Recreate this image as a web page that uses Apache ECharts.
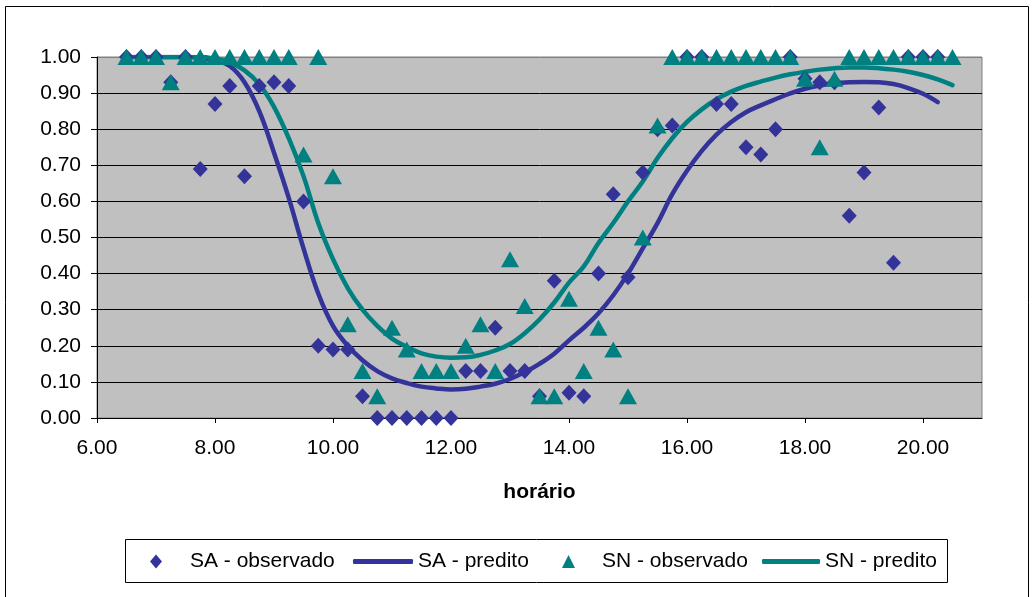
<!DOCTYPE html>
<html><head><meta charset="utf-8">
<script src="https://cdn.jsdelivr.net/npm/echarts@6/dist/echarts.min.js"></script>
<style>html,body{margin:0;padding:0;background:#fff}#c{width:1032px;height:597px}</style>
</head><body><div id="c"></div>
<script>
const hours = [6.5,6.75,7,7.25,7.5,7.75,8,8.25,8.5,8.75,9,9.25,9.5,9.75,10,10.25,10.5,10.75,11,11.25,11.5,11.75,12,12.25,12.5,12.75,13,13.25,13.5,13.75,14,14.25,14.5,14.75,15,15.25,15.5,15.75,16,16.25,16.5,16.75,17,17.25,17.5,17.75,18,18.25,18.5,18.75,19,19.25,19.5,19.75,20,20.25,20.5];
const saObserved = [1,1, 1,0.93,1,0.69, 0.87,0.92,0.67,0.92, 0.93,0.92,0.60,0.20, 0.19,0.19,0.06,0, 0,0,0,0, 0,0.13,0.13,0.25, 0.13,0.13,0.06,0.38, 0.07,0.06,0.40,0.62, 0.39,0.68,0.80,0.81, 1,1,0.87,0.87, 0.75,0.73,0.80,1, 0.94,0.93,0.93,0.56, 0.68,0.86,0.43,1, 1,1,null];
const snObserved = [1,1, 1,0.93,1,1, 1,1,1,1, 1,1,0.73,1, 0.67,0.26,0.13,0.06, 0.25,0.19,0.13,0.13, 0.13,0.20,0.26,0.13, 0.44,0.31,0.06,0.06, 0.33,0.13,0.25,0.19, 0.06,0.50,0.81,1, 1,1,1,1, 1,1,1,1, 0.94,0.75,0.94,1, 1,1,1,1, 1,1,1];
const saPredicted = [1,1, 1,1,1,0.998, 0.99,0.975,0.93,0.85, 0.735,0.61,0.47,0.345, 0.255,0.2,0.16,0.13, 0.11,0.097,0.087,0.082, 0.079,0.081,0.087,0.095, 0.108,0.127,0.15,0.178, 0.215,0.25,0.29,0.34, 0.40,0.47,0.54,0.62, 0.685,0.74,0.785,0.82, 0.847,0.866,0.883,0.899, 0.912,0.921,0.927,0.93, 0.931,0.93,0.925,0.914, 0.898,0.875,null];
const snPredicted = [1,1, 1,1,1,1, 0.995,0.985,0.963,0.925, 0.862,0.775,0.67,0.54, 0.44,0.36,0.30,0.255, 0.22,0.197,0.179,0.17, 0.167,0.168,0.175,0.187, 0.205,0.235,0.273,0.32, 0.375,0.42,0.485,0.54, 0.60,0.655,0.72,0.775, 0.82,0.855,0.883,0.904, 0.92,0.932,0.943,0.952, 0.959,0.965,0.969,0.971, 0.971,0.969,0.965,0.959, 0.95,0.938,0.922];
const xTicks = [6,8,10,12,14,16,18,20];
const seriesNames = ['SA - observado','SA - predito','SN - observado','SN - predito'];
const xAxisName = 'horário';

function pairs(ys){ const out=[]; ys.forEach((y,i)=>{ if(y!==null) out.push([hours[i],y]); }); return out; }

const FONT = "'Liberation Sans', Arial, sans-serif";
const SA_COLOR = '#333399', SN_COLOR = '#008080';
const chart = echarts.init(document.getElementById('c'), null, {renderer:'canvas'});
const legendText = {fontSize:21, fontFamily:FONT, color:'#000'};
const legendBase = {padding:0, top:551, selectedMode:false, textStyle:legendText};
chart.setOption({
  animation:false,
  backgroundColor:'#fff',
  grid:{left:97, top:57, width:885, height:361, show:true, backgroundColor:'#c0c0c0', borderColor:'#808080', borderWidth:1},
  xAxis:{type:'value', min:6, max:21,
    name:xAxisName, nameLocation:'middle', nameGap:64,
    nameTextStyle:{fontSize:21, fontWeight:'bold', fontFamily:FONT, color:'#000'},
    axisLine:{onZero:false, lineStyle:{color:'#000', width:1}},
    axisTick:{show:true, length:5, customValues:xTicks, lineStyle:{color:'#000'}},
    axisLabel:{customValues:xTicks, margin:20, fontSize:21, fontFamily:FONT, color:'#000', formatter:v=>v.toFixed(2)},
    splitLine:{show:false}},
  yAxis:{type:'value', min:0, max:1, interval:0.1,
    axisLine:{show:true, lineStyle:{color:'#000', width:1}},
    axisTick:{show:true, length:6, lineStyle:{color:'#000'}},
    axisLabel:{margin:16, fontSize:21, fontFamily:FONT, color:'#000', formatter:v=>v.toFixed(2)},
    splitLine:{show:true, lineStyle:{color:['#000','#000','#000','#000','#000','#000','#000','#000','#000','#000','#808080'], width:1}}},
  legend:[
    Object.assign({}, legendBase, {data:[{name:seriesNames[0], icon:'diamond'}], left:150, itemWidth:12, itemHeight:14,
      textStyle:Object.assign({}, legendText, {padding:[0,0,0,23]})}),
    Object.assign({}, legendBase, {data:[{name:seriesNames[1], icon:'roundRect'}], left:353, itemWidth:60, itemHeight:5}),
    Object.assign({}, legendBase, {data:[{name:seriesNames[2], icon:'triangle'}], left:562, itemWidth:13, itemHeight:13,
      textStyle:Object.assign({}, legendText, {padding:[0,0,0,22]})}),
    Object.assign({}, legendBase, {data:[{name:seriesNames[3], icon:'roundRect'}], left:762, itemWidth:58, itemHeight:5})
  ],
  graphic:[
    {type:'rect', silent:true, shape:{x:5.5, y:6.5, width:1023, height:600}, style:{fill:null, stroke:'#000', lineWidth:1}},
    {type:'rect', silent:true, shape:{x:125.5, y:539.5, width:822, height:43}, style:{fill:null, stroke:'#000', lineWidth:1}}
  ],
  series:[
    {name:seriesNames[1], type:'line', data:pairs(saPredicted), smooth:0.4, symbol:'none', showSymbol:false, z:2,
      color:SA_COLOR, lineStyle:{color:SA_COLOR, width:4.5, cap:'round', join:'round'}},
    {name:seriesNames[3], type:'line', data:pairs(snPredicted), smooth:0.4, symbol:'none', showSymbol:false, z:2,
      color:SN_COLOR, lineStyle:{color:SN_COLOR, width:4.5, cap:'round', join:'round'}},
    {name:seriesNames[0], type:'scatter', data:pairs(saObserved), symbol:'diamond', symbolSize:[15,16], z:3,
      itemStyle:{color:SA_COLOR, opacity:1}},
    {name:seriesNames[2], type:'scatter', data:pairs(snObserved), symbol:'triangle', symbolSize:[18,16], z:4,
      itemStyle:{color:SN_COLOR, opacity:1}}
  ]
});
</script></body></html>
